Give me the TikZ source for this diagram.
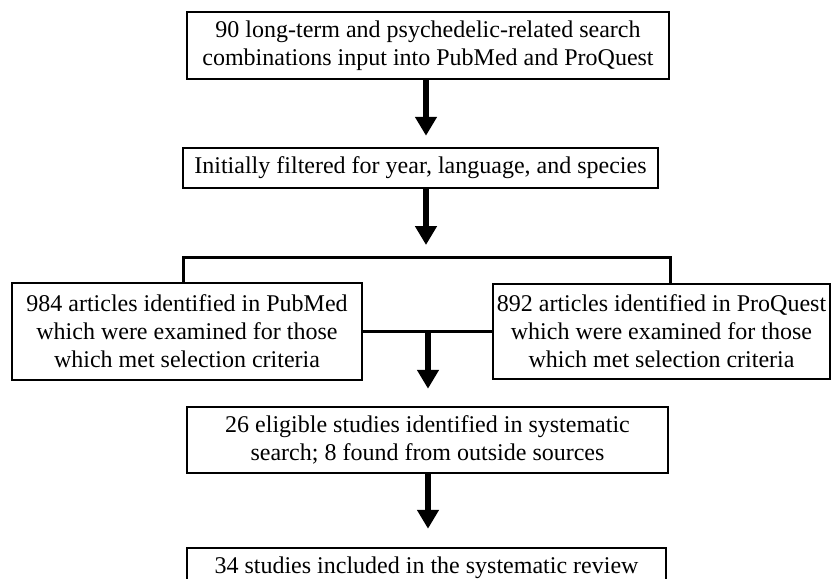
\documentclass[tikz,border=0pt]{standalone}
\usepackage{fontspec}
\setmainfont{Liberation Serif}
\usetikzlibrary{positioning, arrows.meta}

\tikzset{
  box/.style={draw, line width=2.5pt, inner sep=0pt, align=center, font=\fontsize{24}{28}\selectfont},
  flow/.style={line width=5.5pt, -{Triangle[width=21pt,length=19pt]}},
  link/.style={line width=3pt}
}

\begin{document}
\begin{tikzpicture}[x=1pt, y=-1pt]
        \clip (0,0) rectangle (832,578);
        \node[box, minimum width=482pt, minimum height=67pt] (search) at (428,45.5) {90 long-term and psychedelic-related search\\combinations input into PubMed and ProQuest};
        \node[box, minimum width=475pt, minimum height=40pt] (filter) at (420.5,168) {Initially filtered for year, language, and species};
        \node[box, minimum width=350pt, minimum height=97pt] (pubmed) at (187,331.5) {984 articles identified in PubMed\\which were examined for those\\which met selection criteria};
        \node[box, minimum width=337pt, minimum height=95pt] (proquest) at (661.5,331.5) {892 articles identified in ProQuest\\which were examined for those\\which met selection criteria};
        \node[box, minimum width=481pt, minimum height=66pt] (eligible) at (427.5,440) {26 eligible studies identified in systematic\\search; 8 found from outside sources};
        \node[box, minimum width=479pt, minimum height=40pt] (included) at (426.5,568) {34 studies included in the systematic review};
        \coordinate (split) at (426,257); \coordinate (bl) at (183,257); \coordinate (br) at (670,257);
        \coordinate (merge) at (428,332);
        \draw[flow, shorten >=11pt] (split |- search.south) -- (split |- filter.north);
        \draw[flow, shorten >=12pt] (split |- filter.south) -- (split);
        \draw[link] (bl |- pubmed.north) -- (bl) -- (br) -- (br |- proquest.north);
        \draw[link] (pubmed.east) -- (proquest.west);
        \draw[flow, shorten >=17pt] (merge) -- (merge |- eligible.north);
        \draw[flow, shorten >=18pt] (merge |- eligible.south) -- (merge |- included.north);
      \end{tikzpicture}
\end{document}
